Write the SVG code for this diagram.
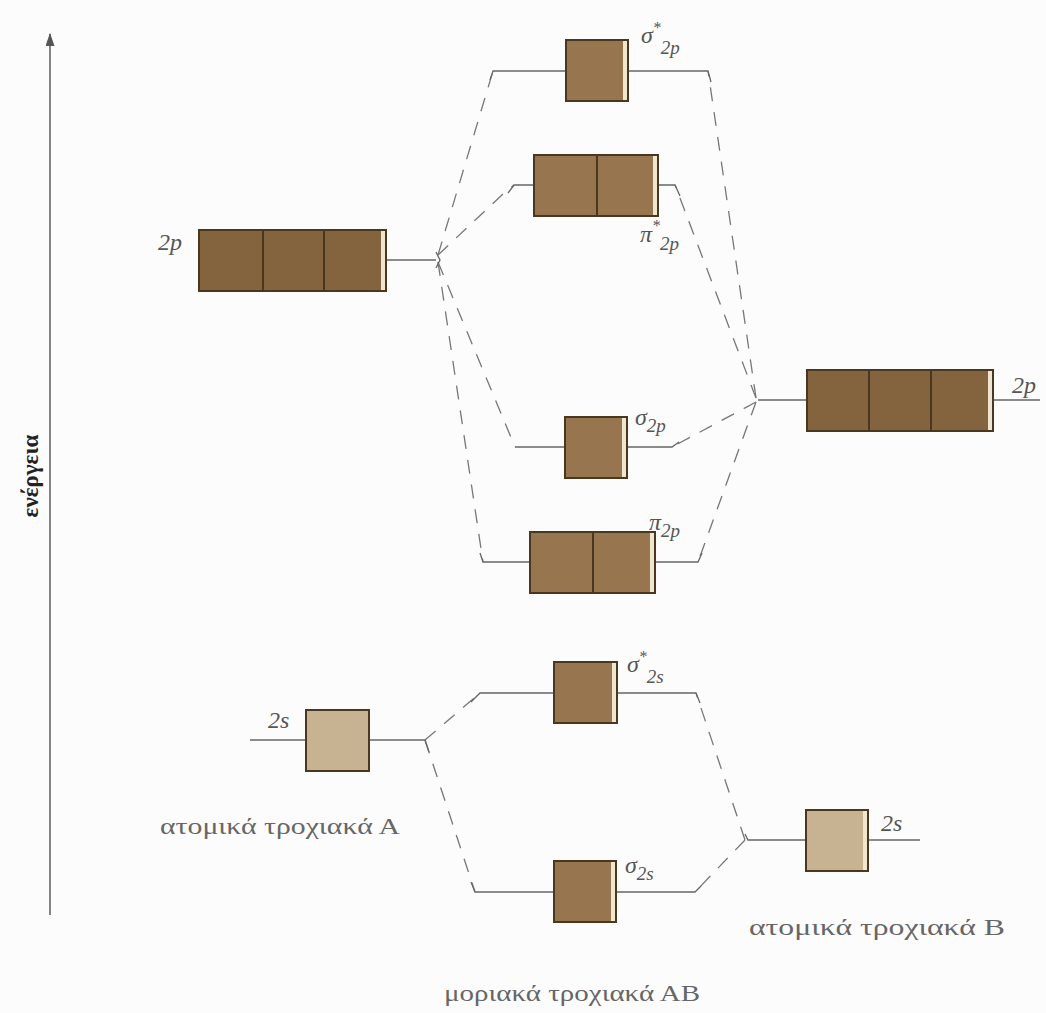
<svg xmlns="http://www.w3.org/2000/svg" width="1046" height="1013" viewBox="0 0 1046 1013">
  <defs>
    <marker id="arrowhead" markerWidth="13" markerHeight="9" refX="12" refY="4.5" orient="auto" markerUnits="userSpaceOnUse">
      <path d="M0,0 L13,4.5 L0,9 Z" fill="#555"/>
    </marker>
  </defs>
  <style>
    .bg { fill: #fdfcfc; }
    .box { stroke: #4a3720; stroke-width: 2; }
    .dark { fill: #84633f; }
    .mid { fill: #97764f; }
    .light { fill: #c7b292; }
    .edge { fill: #efe6cf; }
    .div { stroke: #4a3720; stroke-width: 2; }
    .lvl { stroke: #666; stroke-width: 1.3; fill: none; }
    .dash { stroke: #777; stroke-width: 1.3; fill: none; stroke-dasharray: 14 11; }
    .lab { font-family: "Liberation Serif", "DejaVu Serif", serif; font-style: italic; fill: #555; font-size: 24px; }
    .sub { font-size: 19px; }
    .sup { font-size: 16px; }
    .cap { font-family: "Liberation Serif", "DejaVu Serif", serif; fill: #666; font-size: 24px; }
    .axis { stroke: #666; stroke-width: 1.6; }
  </style>
  <rect class="bg" x="0" y="0" width="1046" height="1013"/>

  <!-- energy axis -->
  <g id="energy-axis">
    <line class="axis" x1="50" y1="915" x2="50" y2="34" marker-end="url(#arrowhead)"/>
    <text x="0" y="0" transform="translate(38,476) rotate(-90)" text-anchor="middle" font-family="Liberation Serif, serif" font-weight="bold" font-size="23" fill="#222">ενέργεια</text>
  </g>

  <!-- connectors: dashed correlation lines -->
  <g id="connectors">
    <!-- 2p of A -->
    <polyline class="dash" points="438,255 493,71"/>
    <polyline class="dash" points="438,255 503,194 514,185"/>
    <polyline class="dash" points="438,262 515,447"/>
    <polyline class="dash" points="438,262 483,562"/>
    <!-- 2p of B -->
    <polyline class="dash" points="756,398 708,71"/>
    <polyline class="dash" points="756,398 675,185"/>
    <polyline class="dash" points="756,402 672,447"/>
    <polyline class="dash" points="756,402 698,562"/>
    <!-- 2s of A -->
    <polyline class="dash" points="425,740 480,693"/>
    <polyline class="dash" points="425,740 475,892"/>
    <!-- 2s of B -->
    <polyline class="dash" points="745,840 696,693"/>
    <polyline class="dash" points="745,840 695,892"/>
  </g>

  <!-- atomic 2p, A -->
  <g id="A-2p">
    <line class="lvl" x1="386" y1="260" x2="436" y2="260"/>
    <path class="lvl" d="M436,252 L440,260 L436,268"/>
    <rect class="box dark" x="199" y="230" width="187" height="61"/>
    <rect class="edge" x="381" y="231" width="4" height="59"/>
    <line class="div" x1="263" y1="230" x2="263" y2="291"/>
    <line class="div" x1="324" y1="230" x2="324" y2="291"/>
    <text class="lab" x="158" y="250">2p</text>
  </g>

  <!-- sigma* 2p -->
  <g id="MO-sigma-star-2p">
    <polyline class="lvl" points="490,80 493,71 566,71"/>
    <polyline class="lvl" points="628,71 708,71 711,82"/>
    <rect class="box mid" x="566" y="40" width="62" height="61"/>
    <rect class="edge" x="623" y="41" width="4" height="59"/>
    <text class="lab" x="641" y="43">σ<tspan class="sup" dy="-10">*</tspan><tspan class="sub" dy="21">2p</tspan></text>
  </g>

  <!-- pi* 2p -->
  <g id="MO-pi-star-2p">
    <polyline class="lvl" points="508,193 514,185 534,185"/>
    <polyline class="lvl" points="658,185 675,185 680,196"/>
    <rect class="box mid" x="534" y="155" width="124" height="61"/>
    <rect class="edge" x="653" y="156" width="4" height="59"/>
    <line class="div" x1="597" y1="155" x2="597" y2="216"/>
    <text class="lab" x="640" y="242">π<tspan class="sup" dy="-11">*</tspan><tspan class="sub" dy="19">2p</tspan></text>
  </g>

  <!-- sigma 2p -->
  <g id="MO-sigma-2p">
    <line class="lvl" x1="515" y1="447" x2="565" y2="447"/>
    <polyline class="lvl" points="627,447 672,447 679,442"/>
    <rect class="box mid" x="565" y="417" width="62" height="61"/>
    <rect class="edge" x="622" y="418" width="4" height="59"/>
    <text class="lab" x="635" y="425">σ<tspan class="sub" dy="7">2p</tspan></text>
  </g>

  <!-- pi 2p -->
  <g id="MO-pi-2p">
    <polyline class="lvl" points="480,553 483,562 530,562"/>
    <polyline class="lvl" points="655,562 698,562 702,553"/>
    <rect class="box mid" x="530" y="532" width="125" height="61"/>
    <rect class="edge" x="650" y="533" width="4" height="59"/>
    <line class="div" x1="593" y1="532" x2="593" y2="593"/>
    <text class="lab" x="649" y="530">π<tspan class="sub" dy="7">2p</tspan></text>
  </g>

  <!-- atomic 2p, B -->
  <g id="B-2p">
    <line class="lvl" x1="758" y1="400" x2="807" y2="400"/>
    <line class="lvl" x1="993" y1="400" x2="1040" y2="400"/>
    <rect class="box dark" x="807" y="370" width="186" height="61"/>
    <rect class="edge" x="988" y="371" width="4" height="59"/>
    <line class="div" x1="869" y1="370" x2="869" y2="431"/>
    <line class="div" x1="931" y1="370" x2="931" y2="431"/>
    <text class="lab" x="1012" y="393">2p</text>
  </g>

  <!-- atomic 2s, A -->
  <g id="A-2s">
    <line class="lvl" x1="250" y1="740" x2="306" y2="740"/>
    <polyline class="lvl" points="369,740 425,740 429,752"/>
    <rect class="box light" x="306" y="710" width="63" height="61"/>
    <text class="lab" x="268" y="728">2s</text>
  </g>

  <!-- sigma* 2s -->
  <g id="MO-sigma-star-2s">
    <polyline class="lvl" points="471,702 480,693 554,693"/>
    <polyline class="lvl" points="617,693 696,693 700,703"/>
    <rect class="box mid" x="554" y="662" width="63" height="61"/>
    <rect class="edge" x="612" y="663" width="4" height="59"/>
    <text class="lab" x="627" y="672">σ<tspan class="sup" dy="-10">*</tspan><tspan class="sub" dy="21">2s</tspan></text>
  </g>

  <!-- sigma 2s -->
  <g id="MO-sigma-2s">
    <polyline class="lvl" points="471,882 475,892 554,892"/>
    <polyline class="lvl" points="616,892 695,892 701,886"/>
    <rect class="box mid" x="554" y="861" width="62" height="61"/>
    <rect class="edge" x="611" y="862" width="4" height="59"/>
    <text class="lab" x="625" y="873">σ<tspan class="sub" dy="7">2s</tspan></text>
  </g>

  <!-- atomic 2s, B -->
  <g id="B-2s">
    <polyline class="lvl" points="745,834 748,840 806,840"/>
    <line class="lvl" x1="868" y1="840" x2="920" y2="840"/>
    <rect class="box light" x="806" y="810" width="62" height="61"/>
    <rect class="edge" x="863" y="811" width="4" height="59"/>
    <text class="lab" x="881" y="831">2s</text>
  </g>

  <!-- captions -->
  <g id="captions">
    <text class="cap" x="160" y="834" textLength="240" lengthAdjust="spacingAndGlyphs">ατομικά τροχιακά Α</text>
    <text class="cap" x="749" y="935" textLength="256" lengthAdjust="spacingAndGlyphs">ατομικά τροχιακά Β</text>
    <text class="cap" x="444" y="1001" textLength="256" lengthAdjust="spacingAndGlyphs">μοριακά τροχιακά ΑΒ</text>
  </g>
</svg>
